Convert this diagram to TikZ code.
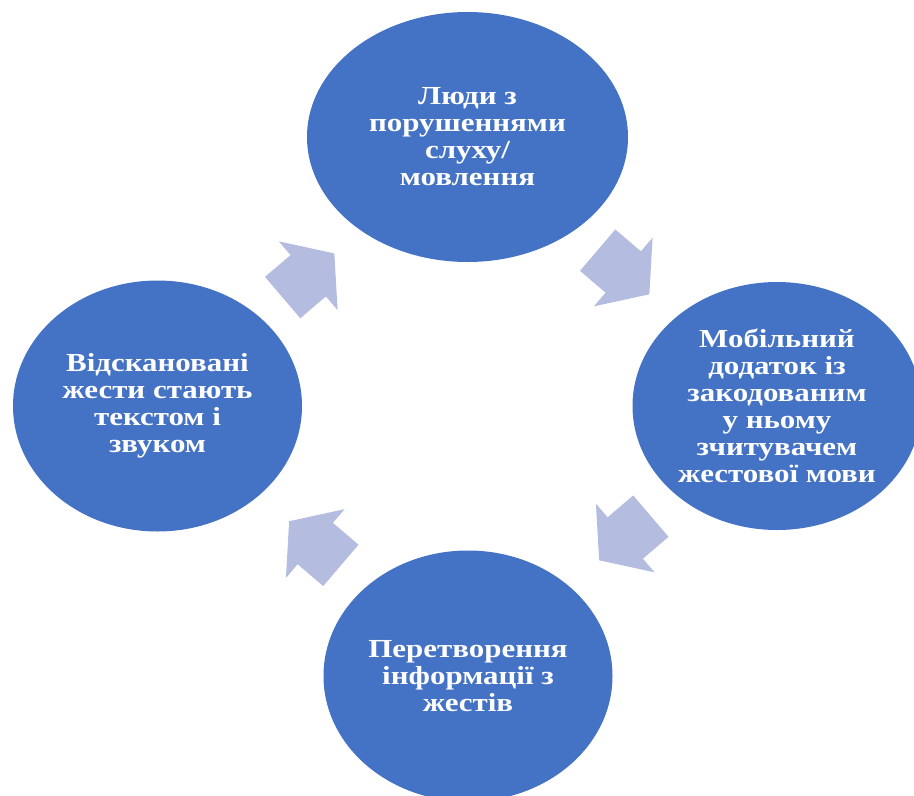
\documentclass[tikz,border=0pt]{standalone}
\usepackage{fontspec}
\setmainfont{Liberation Serif}[FakeStretch=1.19]
\usetikzlibrary{shapes.geometric,shapes.arrows}
\definecolor{stageblue}{HTML}{4472C4}
\definecolor{flowblue}{RGB}{180,189,224}

\begin{document}
\begin{tikzpicture}[
  x=1pt,y=-1pt,
  stage/.style={ellipse,fill=stageblue,text=white,inner sep=0pt,align=center,
    minimum width=289pt,minimum height=251pt,
    font=\bfseries\fontsize{26}{27}\selectfont},
  flow/.style={single arrow,fill=flowblue,inner xsep=0pt,inner ysep=27pt,
    minimum height=68pt,minimum width=90pt,single arrow head extend=18pt,
    single arrow tip angle=105.5,anchor=tail}
]
  \clip (0,0) rectangle (914,796);

  % the four stages of the cycle
  \node[stage,minimum width=321pt,minimum height=250pt] (ppl) at (467.5,137)
    {Люди з\\порушеннями\\слуху/\\мовлення};
  \node[stage,minimum height=248pt] (app) at (777,406)
    {Мобільний\\додаток із\\закодованим\\у ньому\\зчитувачем\\жестової мови};
  \node[stage] (conv) at (468,676)
    {Перетворення\\інформації з\\жестів};
  \node[stage] (scan) at (157.5,406)
    {Відскановані\\жести стають\\текстом і\\звуком};

  % block arrows between them
  \node[flow,rotate=-40.5] (f1) at (597.5,250) {};
  \node[flow,rotate=-139.5] (f2) at (651,516) {};
  \node[flow,rotate=139.5] (f3) at (341,565.5) {};
  \node[flow,rotate=40.5] (f4) at (282.5,297.7) {};
\end{tikzpicture}
\end{document}
